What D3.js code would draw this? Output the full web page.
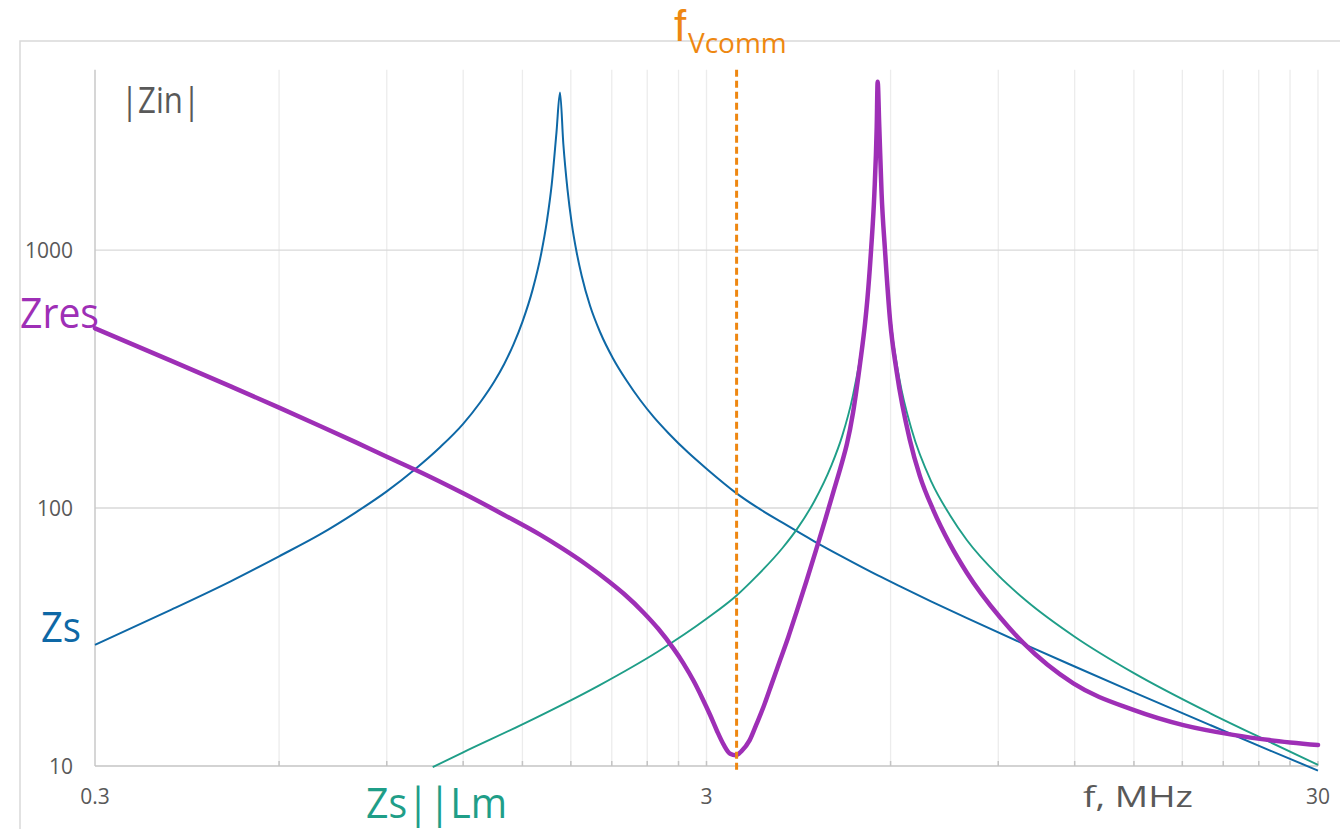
<!DOCTYPE html>
<html><head><meta charset="utf-8">
<script src="https://cdn.jsdelivr.net/npm/d3@7"></script>
<style>
html,body{margin:0;padding:0;background:#fff;}
svg{display:block;font-family:"Open Sans",sans-serif;}
</style></head><body>
<svg id="chart" width="1340" height="829"></svg>
<script>
// ---- data (frequency in MHz, |Z| in ohms) ----
const xTickValues = [0.3, 3, 30];
const xTickLabels = ["0.3", "3", "30"];
const yTickValues = [10, 100, 1000];
const yTickLabels = ["10", "100", "1000"];
const fVcomm = 3.36;

const zsFreq = [0.3,0.4,0.5,0.6,0.7,0.8,0.9,1.0,1.1,1.2,1.28,1.35,1.4,1.45,1.5,1.56,1.61,1.645,1.675,1.705,1.728,1.75,1.777,1.806,1.84,1.875,1.935,2.01,2.11,2.22,2.34,2.46,2.6,2.8,3.0,3.36,3.62,4.0,4.5,5.0,5.72,6.22,7,8,10,12,15,20,25,30];
const zsValues = [29.5,40.4,52,65,79,96,116,141,172,212,257,310,361,430,527,707,969,1296,1795,2847,4080,2570,1726,1269,978,795,608,480,380,312,261,225,195,164,142,114,101,87.5,74.3,64.8,54.8,49.7,43.4,37.4,29.4,24.3,19.3,14.4,11.5,9.6];

const zsLmFreq = [1.07,1.2,1.5,2.0,2.5,3.0,3.36,3.6,4.0,4.22,4.5,4.8,5.0,5.2,5.4,5.5,5.575,5.645,5.69,5.72,5.75,5.8,5.875,6.0,6.2,6.5,7.0,7.5,8.0,9.0,10,12,15,20,25,30];
const zsLmValues = [9.9,11.3,14.5,20.5,27.8,37.2,45.8,53.6,70.3,83,106,146,190,269,446,655,1000,1700,3000,4400,3000,1750,1000,537,318,200,126,94,75,54.8,43.7,31.7,22.9,16,12.4,10.1];

const zresFreq = [0.3,0.4,0.5,0.6,0.7,0.8,0.9,1.0,1.2,1.4,1.6,1.73,1.9,2.09,2.2,2.37,2.5,2.65,2.75,2.86,2.95,3.04,3.12,3.2,3.28,3.35,3.42,3.53,3.62,3.72,3.84,3.96,4.08,4.21,4.37,4.53,4.69,4.84,5.0,5.09,5.21,5.35,5.45,5.5,5.575,5.645,5.695,5.715,5.75,5.8,5.875,5.99,6.14,6.45,6.7,7.05,7.5,8.0,9.06,9.89,11.94,14.97,18.07,21.8,25,30];
const zresValues = [497,372,296,245,208,180,158,141,114,94,79,70.5,60.8,51.3,46.4,39.2,34.1,28.5,25,21.3,18.4,15.8,13.7,12.1,11.15,11.0,11.4,12.6,14.5,17,21,25.8,31.5,39.5,52,68.5,90,116,151,177,235,365,520,650,1000,1660,3000,4490,3000,1660,1000,530,337,184,133,98,72.6,56,37.7,30,20.9,16.5,14.4,13.2,12.6,12.06];

// ---- layout ----
const svg = d3.select("#chart");
const plot = {left: 95, right: 1318, top: 69.7, bottom: 766};
const x = d3.scaleLog().domain([0.3, 30]).range([plot.left, plot.right]);
const y = d3.scaleLog().domain([10, 5000]).range([plot.bottom, plot.top]);

const gray = "#595959";
const cBlue = "#0E68A6", cTeal = "#1F9E88", cPurple = "#9E2FB6", cOrange = "#EE8711";

// chart area border
svg.append("path").attr("d", "M20,829 L20,41 L1340,41")
  .attr("fill", "none").attr("stroke", "#d9d9d9").attr("stroke-width", 1.5);

// minor vertical gridlines (Excel log axis based at 0.3)
const gridFreqs = [];
[0.3, 3].forEach(b => { for (let k = 1; k <= 9; k++) gridFreqs.push(b * k); });
gridFreqs.push(30);
svg.append("g").selectAll("line").data(gridFreqs.filter(f => f > 0.3)).join("line")
  .attr("x1", d => x(d)).attr("x2", d => x(d))
  .attr("y1", plot.top).attr("y2", plot.bottom)
  .attr("stroke", "#ececec").attr("stroke-width", 1.3);

// horizontal gridlines
svg.append("g").selectAll("line").data(yTickValues.slice(1)).join("line")
  .attr("x1", plot.left).attr("x2", plot.right)
  .attr("y1", d => y(d)).attr("y2", d => y(d))
  .attr("stroke", "#d9d9d9").attr("stroke-width", 1.3);

// axes lines
svg.append("line").attr("x1", plot.left).attr("x2", plot.left)
  .attr("y1", plot.top).attr("y2", plot.bottom)
  .attr("stroke", "#c8c8c8").attr("stroke-width", 1.5);
svg.append("line").attr("x1", plot.left).attr("x2", plot.right)
  .attr("y1", plot.bottom).attr("y2", plot.bottom)
  .attr("stroke", "#c4c4c4").attr("stroke-width", 1.6);
// minor tick marks (inside)
svg.append("g").selectAll("line").data(gridFreqs.filter(f => f > 0.3)).join("line")
  .attr("x1", d => x(d)).attr("x2", d => x(d))
  .attr("y1", plot.bottom - 5).attr("y2", plot.bottom)
  .attr("stroke", "#c4c4c4").attr("stroke-width", 1.5);

// tick labels
svg.append("g").selectAll("text").data(yTickValues).join("text")
  .attr("x", 73).attr("y", d => y(d) + 7.5)
  .attr("text-anchor", "end").attr("font-size", 21).attr("fill", gray)
  .text((d, i) => yTickLabels[i]);
svg.append("g").selectAll("text").data(xTickValues).join("text")
  .attr("x", d => x(d)).attr("y", 804)
  .attr("text-anchor", "middle").attr("font-size", 21).attr("fill", gray)
  .text((d, i) => xTickLabels[i]);

// curves
const line = d3.line().x(d => x(d[0])).y(d => y(d[1])).curve(d3.curveMonotoneX);
const zip = (a, b) => a.map((f, i) => [f, b[i]]);
svg.append("path").datum(zip(zsFreq, zsValues)).attr("d", line)
  .attr("fill", "none").attr("stroke", cBlue).attr("stroke-width", 2)
  .attr("stroke-linejoin", "round");
svg.append("path").datum(zip(zsLmFreq, zsLmValues)).attr("d", line)
  .attr("fill", "none").attr("stroke", cTeal).attr("stroke-width", 1.9)
  .attr("stroke-linejoin", "round");
svg.append("path").datum(zip(zresFreq, zresValues)).attr("d", line)
  .attr("fill", "none").attr("stroke", cPurple).attr("stroke-width", 4.5)
  .attr("stroke-linejoin", "round").attr("stroke-linecap", "round");

// fVcomm marker
svg.append("line").attr("x1", x(fVcomm)).attr("x2", x(fVcomm))
  .attr("y1", plot.top).attr("y2", plot.bottom + 4)
  .attr("stroke", cOrange).attr("stroke-width", 3).attr("stroke-dasharray", "7,4");

// annotation texts
svg.append("text").attr("x", 121).attr("y", 113).attr("font-size", 36)
  .attr("fill", gray).attr("textLength", 79).attr("lengthAdjust", "spacingAndGlyphs")
  .text("|Zin|");
svg.append("text").attr("x", 20).attr("y", 328).attr("font-size", 42)
  .attr("fill", cPurple).attr("textLength", 79).attr("lengthAdjust", "spacingAndGlyphs")
  .text("Zres");
svg.append("text").attr("x", 41).attr("y", 642).attr("font-size", 42)
  .attr("fill", cBlue).attr("textLength", 40).attr("lengthAdjust", "spacingAndGlyphs")
  .text("Zs");
svg.append("text").attr("x", 366).attr("y", 818).attr("font-size", 42)
  .attr("fill", cTeal).attr("textLength", 141).attr("lengthAdjust", "spacingAndGlyphs")
  .text("Zs||Lm");
svg.append("text").attr("x", 1083).attr("y", 807).attr("font-size", 29)
  .attr("fill", gray).attr("textLength", 110).attr("lengthAdjust", "spacingAndGlyphs")
  .text("f, MHz");
svg.append("text").attr("x", 674).attr("y", 41).attr("font-size", 44)
  .attr("font-family", "'Liberation Sans', sans-serif")
  .attr("fill", cOrange).text("f");
svg.append("text").attr("x", 688).attr("y", 53).attr("font-size", 28)
  .attr("fill", cOrange).text("Vcomm");
</script>
</body></html>
